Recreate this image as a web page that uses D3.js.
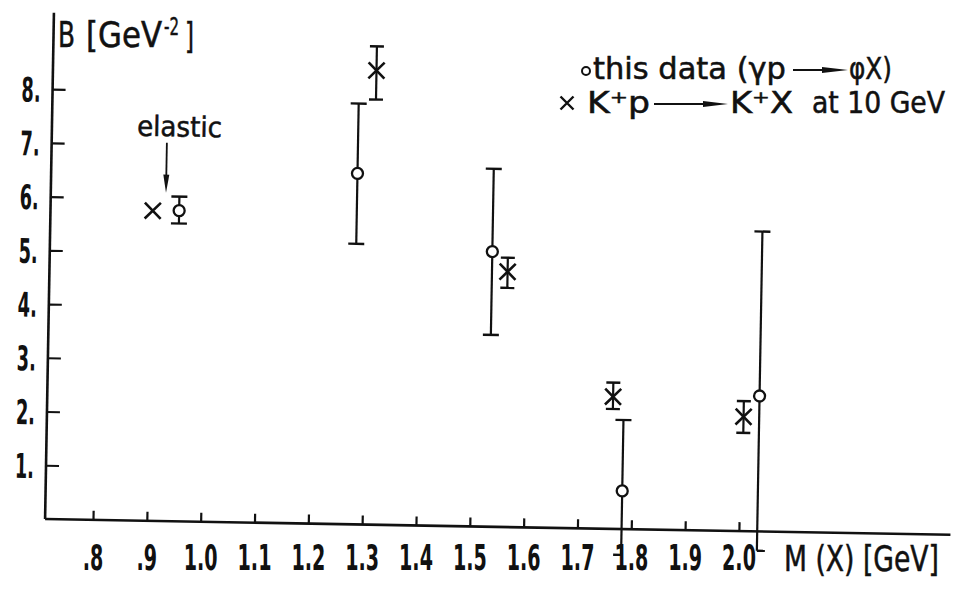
<!DOCTYPE html>
<html><head><meta charset="utf-8">
<script src="https://cdn.jsdelivr.net/npm/d3@7"></script>
<style>
body{margin:0;background:#fff}
svg{display:block;background:#fff}
text{font-family:"DejaVu Sans Condensed","DejaVu Sans",sans-serif;fill:#111;stroke:#111;stroke-width:0.5}
text.tick{font-weight:bold;stroke:none}
</style>
</head><body>
<svg id="c" width="959" height="592"></svg>
<script>
// ---- data ----
const xTicks = [0.8,0.9,1.0,1.1,1.2,1.3,1.4,1.5,1.6,1.7,1.8,1.9,2.0];
const xTickLabels = [".8",".9","1.0","1.1","1.2","1.3","1.4","1.5","1.6","1.7","1.8","1.9","2.0"];
const yTicks = [1,2,3,4,5,6,7,8];
const yTickLabels = ["1.","2.","3.","4.","5.","6.","7.","8."];
// this data (gamma p -> phi X)
const phiMass = [0.950,1.280,1.533,1.782,2.034];
const phiB    = [5.78,6.53,5.12,0.71,2.52];
const phiLo   = [5.54,5.22,3.57,-0.48,-0.36];
const phiHi   = [6.04,7.83,6.66,2.03,5.58];
const phiLoCap = ["both","both","both","left","right"];
// K+ p -> K+ X at 10 GeV
const kMass = [0.901,1.312,1.562,1.762,2.005];
const kB    = [5.77,8.45,4.75,2.46,2.13];
const kLo   = [null,7.91,4.45,2.23,1.83];
const kHi   = [null,8.90,5.01,2.72,2.42];
const elasticMass = 0.925;
const elasticLabelMass = 0.948;
const elasticArrow = [7.04, 6.11];
const xExtent = [0.711, 2.393];
const yTop = 9.42;

// ---- scales ----
const svg = d3.select("#c");
const x = d3.scaleLinear().domain([0.8, 2.0]).range([93, 739]);
const y = d3.scaleLinear().domain([0, 8]).range([519, 89]);
const ox = x(xExtent[0]), oy = y(0);

const g = svg.append("g").attr("transform", `rotate(1 ${ox} ${oy})`);

// axes lines
g.append("line").attr("x1", ox).attr("x2", x(xExtent[1])).attr("y1", oy).attr("y2", oy)
  .attr("stroke","#111").attr("stroke-width",2.6);
g.append("line").attr("x1", ox).attr("x2", ox).attr("y1", oy).attr("y2", y(yTop))
  .attr("stroke","#111").attr("stroke-width",2.6);

// x ticks (pointing up)
const xa = d3.axisTop(x).tickValues(xTicks).tickFormat("").tickSize(9).tickSizeOuter(0);
const gx = g.append("g").attr("transform", `translate(0,${oy})`).call(xa);
gx.select(".domain").remove();
gx.selectAll("line").attr("stroke","#111").attr("stroke-width",2.2);

// y ticks (pointing right)
const ya = d3.axisRight(y).tickValues(yTicks).tickFormat("").tickSize(13).tickSizeOuter(0);
const gy = g.append("g").attr("transform", `translate(${ox},0)`).call(ya);
gy.select(".domain").remove();
gy.selectAll("line").attr("stroke","#111").attr("stroke-width",2.2);

// y tick labels
g.selectAll(".ylab").data(yTicks).join("text").attr("class","ylab tick")
  .attr("transform", (d) => `translate(${ox-12},${y(d)+13}) scale(0.58,1)`)
  .attr("text-anchor","end").attr("font-size",34)
  .text((d,i) => yTickLabels[i]);

// x tick labels (horizontal, not rotated)
svg.selectAll(".xlab").data(xTicks).join("text").attr("class","xlab tick")
  .attr("transform", (d) => `translate(${x(d)},570) scale(0.59,1)`)
  .attr("text-anchor","middle").attr("font-size",36)
  .text((d,i) => xTickLabels[i]);

// ---- error bars ----
function errBar(mx, lo, hi, half, loCap) {
  const cx = x(mx);
  g.append("line").attr("x1",cx).attr("x2",cx).attr("y1",y(lo)).attr("y2",y(hi))
    .attr("stroke","#111").attr("stroke-width",2.2);
  g.append("line").attr("x1",cx-half).attr("x2",cx+half).attr("y1",y(hi)).attr("y2",y(hi))
    .attr("stroke","#111").attr("stroke-width",2.4);
  const l = loCap === "right" ? cx : cx - half;
  const r = loCap === "left" ? cx : cx + half;
  g.append("line").attr("x1",l).attr("x2",r).attr("y1",y(lo)).attr("y2",y(lo))
    .attr("stroke","#111").attr("stroke-width",2.4);
}
phiMass.forEach((m,i) => errBar(m, phiLo[i], phiHi[i], 8, phiLoCap[i]));
kMass.forEach((m,i) => { if (kLo[i] !== null) errBar(m, kLo[i], kHi[i], 7, "both"); });

// crosses
const cs = 8;
kMass.forEach((m,i) => {
  const cx = x(m), cy = y(kB[i]);
  g.append("path").attr("d", `M${cx-cs},${cy-cs}L${cx+cs},${cy+cs}M${cx-cs},${cy+cs}L${cx+cs},${cy-cs}`)
    .attr("stroke","#111").attr("stroke-width",2.6).attr("fill","none");
});
// circles
g.selectAll(".phi").data(phiMass).join("circle").attr("class","phi")
  .attr("cx", d => x(d)).attr("cy", (d,i) => y(phiB[i])).attr("r",5.5)
  .attr("fill","#fff").attr("stroke","#111").attr("stroke-width",2.3);

// ---- text helper: fit a text to a width with a horizontal scale ----
function txt(parent, s, xx, yy, size, w, anchor) {
  const t = parent.append("text").attr("font-size",size).text(s);
  if (anchor) t.attr("text-anchor",anchor);
  const n = t.node().getComputedTextLength() || w;
  t.attr("transform", `translate(${xx},${yy}) scale(${(w/n).toFixed(4)},1)`);
  return t;
}

// ---- elastic annotation ----
const ex = x(elasticMass);
txt(g, "elastic", x(elasticLabelMass), y(7.16), 28, 85, "middle");
g.append("line").attr("x1",ex).attr("x2",ex).attr("y1",y(elasticArrow[0])).attr("y2",y(elasticArrow[1])-14)
  .attr("stroke","#111").attr("stroke-width",1.8);
g.append("path").attr("d", `M${ex-3},${y(elasticArrow[1])-18}L${ex+3},${y(elasticArrow[1])-18}L${ex},${y(elasticArrow[1])}Z`)
  .attr("fill","#111");

// ---- titles ----
txt(svg, "B", 58, 47, 35, 17);
txt(svg, "[GeV", 86, 47, 35, 76);
txt(svg, "-2", 164, 35, 25, 15);
txt(svg, "]", 185, 48, 35, 9);
txt(svg, "M (X) [GeV]", 784, 571, 35, 155);

// ---- legend ----
svg.append("circle").attr("cx",586).attr("cy",71).attr("r",4)
  .attr("fill","#fff").attr("stroke","#111").attr("stroke-width",2);
txt(svg, "this data (γp", 593, 79, 30, 193);
svg.append("line").attr("x1",793).attr("x2",838).attr("y1",70).attr("y2",70).attr("stroke","#111").attr("stroke-width",2);
svg.append("path").attr("d","M822,67L848,70L822,73Z").attr("fill","#111");
txt(svg, "φX)", 849, 79, 30, 43);

const lx = 567, ly = 103, ls = 6.5;
svg.append("path").attr("d",`M${lx-ls},${ly-ls}L${lx+ls},${ly+ls}M${lx-ls},${ly+ls}L${lx+ls},${ly-ls}`)
  .attr("stroke","#111").attr("stroke-width",2.4);
txt(svg, "K⁺p", 587, 113, 30, 63);
svg.append("line").attr("x1",654).attr("x2",718).attr("y1",104).attr("y2",104).attr("stroke","#111").attr("stroke-width",2);
svg.append("path").attr("d","M703,101L728,104L703,107Z").attr("fill","#111");
txt(svg, "K⁺X", 730, 113, 30, 63);
txt(svg, "at 10 GeV", 812, 113, 30, 133);
</script>
</body></html>
